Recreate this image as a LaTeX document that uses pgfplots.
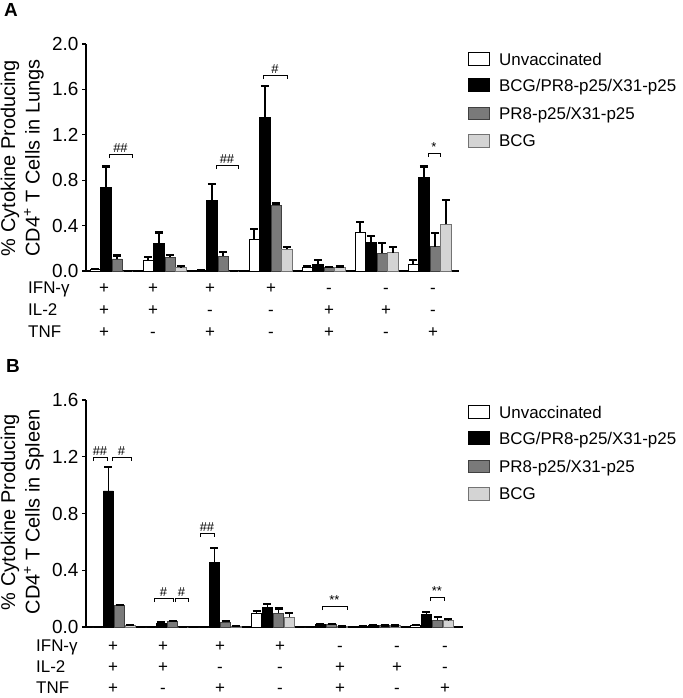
\documentclass[border=0pt]{standalone}
\usepackage{pgfplots}
\pgfplotsset{compat=1.18}
\usepackage{pgfplotstable}
\usepackage{fontspec}
\setmainfont{Liberation Sans}
\definecolor{midgray}{HTML}{7A7A7A}
\definecolor{ltgray}{HTML}{D4D4D4}

\pgfplotstableread{
x uy ue by be gy ge ly le
0 0.010 0.006 0.735 0.185 0.106 0.030 0.000 0.000
1 0.097 0.023 0.240 0.100 0.120 0.020 0.030 0.014
2 0.005 0.003 0.620 0.150 0.130 0.040 0.000 0.000
3 0.280 0.090 1.356 0.275 0.580 0.015 0.190 0.020
4 0.030 0.015 0.060 0.040 0.030 0.005 0.030 0.010
5 0.340 0.095 0.250 0.060 0.156 0.094 0.160 0.050
6 0.060 0.040 0.826 0.094 0.215 0.120 0.410 0.216
}\dataA

\pgfplotstableread{
x uy ue by be gy ge ly le
0 0.000 0.000 0.959 0.166 0.150 0.005 0.010 0.002
1 0.000 0.000 0.028 0.005 0.038 0.007 0.000 0.000
2 0.000 0.000 0.458 0.097 0.035 0.007 0.007 0.002
3 0.096 0.017 0.136 0.028 0.096 0.034 0.068 0.028
4 0.000 0.000 0.018 0.004 0.016 0.003 0.003 0.000
5 0.005 0.002 0.009 0.002 0.009 0.002 0.009 0.002
6 0.012 0.003 0.087 0.018 0.047 0.023 0.045 0.013
}\dataB

\pgfplotsset{
  mystyle/.style={
    ybar, bar width=0.19, scale only axis, height=227bp, ymin=0,
    axis x line*=bottom, axis y line*=left, xtick=\empty,
    tick align=outside, major tick length=4bp,
    axis line style={line width=1.2bp, black},
    y tick style={line width=1.2bp, black},
    yticklabel style={font=\fontsize{19}{19}\selectfont,
      /pgf/number format/fixed, /pgf/number format/fixed zerofill,
      /pgf/number format/precision=1, /pgf/number format/assume math mode=true},
    clip=false,
    error bars/y dir=plus, error bars/y explicit,
    error bars/error bar style={line width=1.6bp, black},
    error bars/error mark options={rotate=90, line width=2.2bp, black, mark size=4bp},
  },
  s1/.style={fill=white, draw=black, line width=0.8bp, bar shift=-0.31},
  s2/.style={fill=black, draw=black, line width=0.8bp, bar shift=-0.105},
  s3/.style={fill=midgray, draw=black!75, line width=0.8bp, bar shift=0.105},
  s4/.style={fill=ltgray, draw=black!55, line width=0.8bp, bar shift=0.31},
}

\newcommand{\brk}[4]{%
  \draw[line width=0.9bp] (#1,#3+4) -- (#1,#3) -- (#2,#3) -- (#2,#3+4);
  \node[anchor=south, inner sep=1bp, font=\fontsize{13}{13}\selectfont] at ({(#1+#2)/2},#3) {#4};}

\begin{document}
\begin{tikzpicture}
\useasboundingbox (0,0) rectangle (683bp,-698bp);

% Panel A
\begin{axis}[mystyle, at={(86bp,-271bp)}, anchor=south west, width=373bp,
  xmin=-0.481, xmax=6.557, ymax=2.0, ytick={0,0.4,0.8,1.2,1.6,2.0}]
\addplot[s1] table[x=x, y=uy, y error=ue] {\dataA};
\addplot[s2] table[x=x, y=by, y error=be] {\dataA};
\addplot[s3] table[x=x, y=gy, y error=ge] {\dataA};
\addplot[s4] table[x=x, y=ly, y error=le] {\dataA};
\end{axis}

% Panel B
\begin{axis}[mystyle, at={(86bp,-627bp)}, anchor=south west, width=377bp,
  xmin=-0.528, xmax=6.585, ymax=1.6, ytick={0,0.4,0.8,1.2,1.6}]
\addplot[s1] table[x=x, y=uy, y error=ue] {\dataB};
\addplot[s2] table[x=x, y=by, y error=be] {\dataB};
\addplot[s3] table[x=x, y=gy, y error=ge] {\dataB};
\addplot[s4] table[x=x, y=ly, y error=le] {\dataB};
\end{axis}

\begin{scope}[x=1bp, y=-1bp]
  % panel letters
  \node[anchor=north west, inner sep=0pt, font=\bfseries\fontsize{19}{19}\selectfont] at (4,3) {A};
  \node[anchor=north west, inner sep=0pt, font=\bfseries\fontsize{19}{19}\selectfont] at (6,359) {B};
  % y labels
  \begin{scope}[every node/.style={rotate=90, font=\fontsize{20}{20}\selectfont, inner sep=0pt}]
    \node at (10,158) {\% Cytokine Producing};
    \node at (34,158) {CD4\textsuperscript{+} T Cells in Lungs};
    \node at (10,512) {\% Cytokine Producing};
    \node at (34,512) {CD4\textsuperscript{+} T Cells in Spleen};
  \end{scope}
  % tables
  \begin{scope}[every node/.style={anchor=base, inner sep=0pt, font=\fontsize{17}{17}\selectfont}]
    \node[anchor=base west] at (28,293) {IFN-γ};
    \node[anchor=base west] at (28,315) {IL-2};
    \node[anchor=base west] at (28,337) {TNF};
    \foreach \x/\a/\b/\c in {104/+/+/+, 153/+/+/-, 210/+/-/+, 271/+/-/-, 329/-/+/+, 386/-/+/-, 433/-/-/+} {
      \node at (\x,293) {\a};
      \node at (\x,315) {\b};
      \node at (\x,337) {\c};
    }
    \node[anchor=base west] at (36,651) {IFN-γ};
    \node[anchor=base west] at (36,672) {IL-2};
    \node[anchor=base west] at (36,693) {TNF};
    \foreach \x/\a/\b/\c in {113/+/+/+, 163/+/+/-, 220/+/-/+, 280/+/-/-, 340/-/+/+, 397/-/+/-, 445/-/-/+} {
      \node at (\x,651) {\a};
      \node at (\x,672) {\b};
      \node at (\x,693) {\c};
    }
  \end{scope}
  % significance brackets A
  \brk{109}{132}{154}{\#\#}
  \brk{216}{238}{165}{\#\#}
  \brk{263}{287}{75}{\#}
  \brk{428}{440}{153}{*}
  % significance brackets B
  \brk{93}{107}{457}{\#\#}
  \brk{112}{131}{457}{\#}
  \brk{154}{173}{598}{\#}
  \brk{175}{188}{598}{\#}
  \brk{200}{214}{533}{\#\#}
  \brk{322}{347}{606}{**}
  \brk{430}{444}{597}{**}
  % legends
  \foreach \dy in {0,353} {
    \begin{scope}[yshift=-\dy bp]
      \draw[fill=white, draw=black, line width=0.8bp] (468,52) rectangle (489,65);
      \draw[fill=black, draw=black, line width=0.8bp] (468,78) rectangle (489,91);
      \draw[fill=midgray, draw=black!75, line width=0.8bp] (468,107) rectangle (489,119);
      \draw[fill=ltgray, draw=black!55, line width=0.8bp] (468,134) rectangle (489,147);
      \begin{scope}[every node/.style={anchor=base west, inner sep=0pt, font=\fontsize{17}{17}\selectfont}]
        \node at (499,65) {Unvaccinated};
        \node at (499,91) {BCG/PR8-p25/X31-p25};
        \node at (499,119) {PR8-p25/X31-p25};
        \node at (499,146) {BCG};
      \end{scope}
    \end{scope}
  }
\end{scope}
\end{tikzpicture}
\end{document}
